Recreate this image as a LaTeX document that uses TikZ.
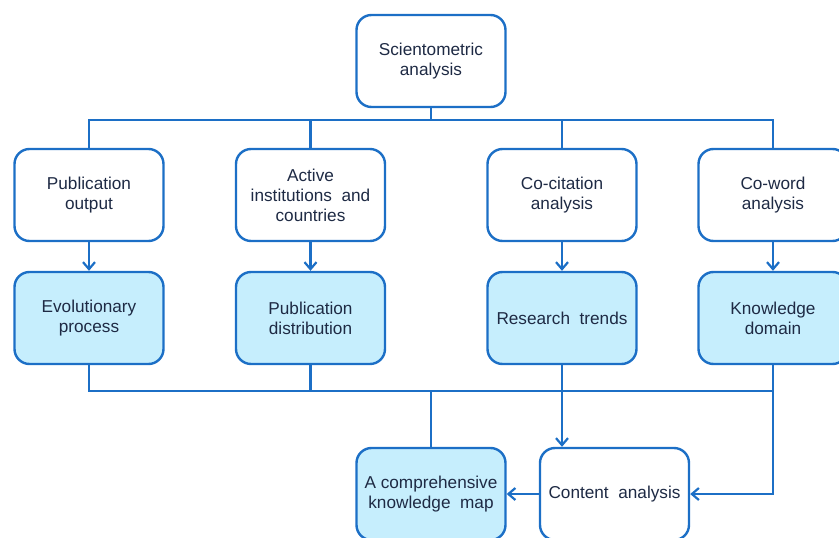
\documentclass[tikz,border=0pt]{standalone}
\usepackage{fontspec}
\setmainfont{Liberation Sans}
\usetikzlibrary{arrows.meta}
\definecolor{lineblue}{HTML}{1C6FC6}
\definecolor{boxfill}{HTML}{C6EEFD}
\definecolor{txt}{HTML}{1E2A44}
\tikzset{
  box/.style={draw=lineblue, line width=2.4pt, rounded corners=15pt, fill=white,
    minimum width=149pt, minimum height=92pt, align=center, text=txt,
    font=\fontsize{17.2}{20}\selectfont, inner sep=2pt},
  hbox/.style={box, fill=boxfill},
  conn/.style={draw=lineblue, line width=2.2pt},
  arr/.style={conn, -{Straight Barb[length=7pt,width=12pt,line width=2.2pt]}}
}
\begin{document}
\begin{tikzpicture}[x=1pt,y=-1pt]
\useasboundingbox (0,0) rectangle (839,538);
\clip (0,0) rectangle (839,538);
\node[box] (top) at (431,61) {Scientometric\\analysis};
\node[box] (a1) at (89,195) {Publication\\output};
\node[box] (a2) at (310.5,195) {Active\\institutions\ \ and\\countries};
\node[box] (a3) at (562,195) {Co-citation\\analysis};
\node[box] (a4) at (773,195) {Co-word\\analysis};
\node[hbox] (b1) at (89,318) {Evolutionary\\process};
\node[hbox] (b2) at (310.5,318) {Publication\\distribution};
\node[hbox] (b3) at (562,318) {Research\ \ trends};
\node[hbox] (b4) at (773,318) {Knowledge\\domain};
\node[hbox] (map) at (431,494) {A comprehensive\\knowledge\ \ map};
\node[box] (content) at (614.5,494) {Content\ \ analysis};
\coordinate (busT) at (431,120);
\coordinate (busB) at (431,391);
% top bus
\draw[conn] (top.south) -- (busT);
\draw[conn] (a1.north) -- (a1.north|-busT) -- (a4.north|-busT) -- (a4.north);
\draw[conn] (a2.north) -- (a2.north|-busT);
\draw[conn] (a3.north) -- (a3.north|-busT);
% arrows between rows
\foreach \i in {1,2,3,4}{\draw[arr] (a\i.south) -- (b\i.north);}
% bottom bus
\draw[conn] (b1.south) -- (b1.south|-busB) -- (b4.south|-busB);
\draw[conn] (b2.south) -- (b2.south|-busB);
\draw[conn] (busB) -- (map.north);
\draw[arr] (b3.south) -- (b3.south|-content.north);
\draw[arr] (b4.south) |- (content.east);
\draw[arr] (content.west) -- (map.east);
\end{tikzpicture}
\end{document}
